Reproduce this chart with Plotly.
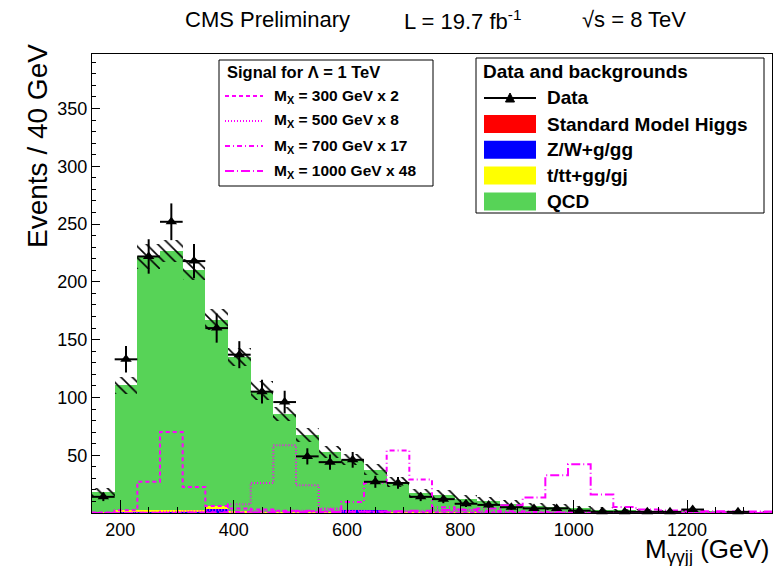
import plotly.graph_objects as go

# ---------------- data ----------------
bin_edges = [150, 190, 230, 270, 310, 350, 390, 430, 470, 510, 550, 590, 630, 670, 710,
             750, 790, 830, 870, 910, 950, 990, 1030, 1070, 1110, 1150, 1190, 1230, 1270,
             1310, 1350]
bin_centers = [170, 210, 250, 290, 330, 370, 410, 450, 490, 530, 570, 610, 650, 690, 730,
               770, 810, 850, 890, 930, 970, 1010, 1050, 1090, 1130, 1170, 1210, 1250,
               1290, 1330]

data_counts = [14, 133, 222, 252, 218, 160, 137, 105, 96, 49, 44, 46, 27, 26, 14,
               12, 8, 7, 5, 4, 4, 2, 1, 1, 1, 1, 3, None, 1, None]
data_errors = [3.7, 11.5, 14.9, 15.9, 14.8, 12.6, 11.7, 10.2, 9.8, 7.0, 6.6, 6.8, 5.2, 5.1, 3.7,
               3.5, 2.8, 2.6, 2.2, 2.0, 2.0, 1.4, 1.0, 1.0, 1.0, 1.0, 1.7, None, 1.0, None]

bkg_higgs = [0.1, 0.2, 0.3, 0.3, 0.3, 0.3, 0.2, 0.2, 0.2, 0.1, 0.1, 0.1, 0.1, 0.1, 0.1,
             0.1, 0.1, 0.05, 0.05, 0.05, 0.05, 0.05, 0.05, 0.05, 0.05, 0.05, 0.05, 0.05, 0.05, 0.05]
bkg_zw = [0.3, 0.5, 0.5, 0.5, 0.6, 3.5, 0.5, 0.4, 0.3, 0.3, 0.3, 2.6, 2.6, 0.3, 0.2,
          0.2, 0.2, 0.1, 0.1, 0.1, 0.1, 0.1, 0.1, 0.1, 0.1, 0.1, 0.1, 0.1, 0.1, 0.1]
bkg_tt = [0.6, 1.8, 2.0, 2.0, 2.0, 2.0, 0.8, 0.6, 0.5, 0.5, 0.4, 0.3, 0.3, 0.3, 0.2,
          0.2, 0.2, 0.1, 0.1, 0.1, 0.1, 0.1, 0.1, 0.1, 0.1, 0.1, 0.1, 0.1, 0.1, 0.1]
bkg_qcd = [17.3, 108.1, 219.2, 223.7, 207.8, 161.6, 133.5, 104.8, 85.0, 66.4, 52.2, 43.3, 34.6,
           26.3, 16.4, 15.5, 12.0, 10.2, 7.9, 5.6, 5.0, 4.1, 2.7, 2.1, 1.5, 1.2, 0.9, 0.7, 0.5, 0.3]
mc_stat_err = [3.6, 7.2, 10.5, 9.5, 9.5, 9.4, 8.0, 8.0, 6.0, 6.0, 5.0, 5.0, 5.0, 4.5, 4.0,
               4.0, 3.5, 3.0, 3.0, 2.5, 2.5, 2.0, 2.0, 1.5, 1.5, 1.2, 1.2, 1.0, 1.0, 1.0]

sig_300 = [0.5, 2.4, 27, 70, 22.6, 6, 4, 3, 2, 1.5, 1.2, 1, 0.8, 0.6, 0.5,
           0.4, 0.3, 0.3, 0.2, 0.2, 0.2, 0.1, 0.1, 0.1, 0.1, 0.1, 0.1, 0.1, 0.1, 0.1]
sig_500 = [0.1, 0.3, 0.5, 1, 1.5, 2.5, 7.6, 26, 58.6, 24, 4, 2, 1.5, 1.2, 1,
           0.8, 0.6, 0.5, 0.4, 0.3, 0.3, 0.2, 0.2, 0.2, 0.2, 0.1, 0.1, 0.1, 0.1, 0.1]
sig_700 = [0, 0.1, 0.2, 0.3, 0.5, 0.7, 1, 1.3, 1.6, 2, 3, 9.6, 26, 54, 29,
           5, 2.5, 1.8, 1.5, 1.2, 1, 0.8, 0.7, 0.6, 0.5, 0.4, 0.4, 0.3, 0.3, 0.3]
sig_1000 = [0, 0, 0.1, 0.1, 0.2, 0.3, 0.4, 0.5, 0.6, 0.7, 0.8, 1, 1.2, 1.5, 2,
            2.5, 3, 4, 6.7, 13.4, 32.7, 42.2, 16, 5.3, 3, 2.2, 1.8, 1.5, 1.3, 1.2]

x_tick_vals = [200, 400, 600, 800, 1000, 1200]
y_tick_vals = [0, 50, 100, 150, 200, 250, 300, 350]
y_tick_text = ["", "50", "100", "150", "200", "250", "300", "350"]

bkg_names = ["Standard Model Higgs", "Z/W+g/gg", "t/tt+gg/gj", "QCD"]
bkg_colors = ["#ff0000", "#0000ff", "#ffff00", "#57d357"]
sig_labels = ["M<sub>X</sub> = 300 GeV x 2", "M<sub>X</sub> = 500 GeV x 8",
              "M<sub>X</sub> = 700 GeV x 17", "M<sub>X</sub> = 1000 GeV x 48"]
sig_dashes = ["4px,3px", "1px,2px", "5px,3px,1px,3px", "9px,3px,1px,3px"]
MAGENTA = "#ff00ff"
FONT = "Liberation Sans, Arial, Helvetica, sans-serif"

# ---------------- figure ----------------
fig = go.Figure()

base = [0.0] * len(bin_centers)
for vals, col in zip([bkg_higgs, bkg_zw, bkg_tt, bkg_qcd], bkg_colors):
    fig.add_trace(go.Bar(x=bin_centers, y=vals, base=list(base), width=40,
                         marker=dict(color=col, line=dict(width=0)),
                         hoverinfo="skip", showlegend=False))
    base = [b + v for b, v in zip(base, vals)]
total = base

# hatched MC uncertainty band
fig.add_trace(go.Bar(x=bin_centers, y=[2 * e for e in mc_stat_err],
                     base=[t - e for t, e in zip(total, mc_stat_err)], width=40,
                     marker=dict(color="rgba(0,0,0,0)", line=dict(width=0),
                                 pattern=dict(shape="\\", fgcolor="black",
                                              bgcolor="rgba(0,0,0,0)", size=8,
                                              solidity=0.2, fillmode="replace")),
                     hoverinfo="skip", showlegend=False))

# signal histograms (step lines)
for vals, dash in zip([sig_300, sig_500, sig_700, sig_1000], sig_dashes):
    fig.add_trace(go.Scatter(x=bin_edges, y=list(vals) + [vals[-1]], mode="lines",
                             line=dict(color=MAGENTA, width=2, dash=dash, shape="hv"),
                             hoverinfo="skip", showlegend=False))

# data points
fig.add_trace(go.Scatter(x=bin_centers, y=data_counts, mode="markers",
                         marker=dict(symbol="triangle-up", size=10, color="black"),
                         error_y=dict(type="data", array=data_errors, color="black",
                                      thickness=2, width=0),
                         error_x=dict(type="constant", value=20, color="black",
                                      thickness=2, width=0),
                         cliponaxis=False, hoverinfo="skip", showlegend=False))

L, R, T, B = 92, 772, 54, 513


def px(x):
    return (x - L) / (R - L)


def py(y):
    return (B - y) / (B - T)


fig.update_layout(
    width=778, height=566,
    margin=dict(l=L, r=778 - R, t=T, b=566 - B),
    plot_bgcolor="white", paper_bgcolor="white",
    barmode="overlay", bargap=0, showlegend=False,
    font=dict(family=FONT, size=18, color="black"),
)
fig.update_xaxes(range=[150, 1350], tickmode="array", tickvals=x_tick_vals,
                 ticks="inside", ticklen=13, tickwidth=1, tickcolor="black",
                 minor=dict(ticks="inside", ticklen=6, tickmode="linear", tick0=200,
                            dtick=50, tickcolor="black", tickwidth=1),
                 showline=True, linecolor="black", linewidth=1, mirror=True,
                 showgrid=False, zeroline=False, tickfont=dict(size=18),
                 ticklabelstandoff=0)
fig.update_yaxes(range=[0, (B - T) / 1.1556], tickmode="array", tickvals=y_tick_vals,
                 ticktext=y_tick_text, ticks="inside", ticklen=8, tickwidth=1,
                 tickcolor="black",
                 minor=dict(ticks="inside", ticklen=4, tickmode="linear", tick0=0,
                            dtick=10, tickcolor="black", tickwidth=1),
                 showline=True, linecolor="black", linewidth=1, mirror=True,
                 showgrid=False, zeroline=False, tickfont=dict(size=18))

ann = []
shapes = []

# title
ann.append(dict(text="CMS Preliminary", x=px(183), y=py(20), xanchor="left", yanchor="middle",
                font=dict(size=22)))
ann.append(dict(text="L = 19.7 fb<sup>-1</sup>", x=px(402), y=py(20), xanchor="left",
                yanchor="middle", font=dict(size=22)))
ann.append(dict(text="√s = 8 TeV", x=px(580), y=py(20), xanchor="left", yanchor="middle",
                font=dict(size=22)))
# axis titles
ann.append(dict(text="Events / 40 GeV", x=px(37), y=py(42), xanchor="center", yanchor="top",
                textangle=-90, font=dict(size=28)))
ann.append(dict(text="M<sub>γγjj</sub> (GeV)", x=px(772), y=py(550), xanchor="right",
                yanchor="middle", font=dict(size=26)))

# left legend (signals)
shapes.append(dict(type="rect", x0=px(219), x1=px(433), y0=py(60), y1=py(186),
                   line=dict(color="black", width=1), fillcolor="white", layer="above"))
ann.append(dict(text="<b>Signal for Λ = 1 TeV</b>", x=px(225), y=py(72), xanchor="left",
                yanchor="middle", font=dict(size=16.5)))
for i, (lab, dash) in enumerate(zip(sig_labels, sig_dashes)):
    yy = 96 + 25 * i
    shapes.append(dict(type="line", x0=px(225), x1=px(263), y0=py(yy), y1=py(yy),
                       line=dict(color=MAGENTA, width=2, dash=dash), layer="above"))
    ann.append(dict(text="<b>" + lab + "</b>", x=px(272), y=py(yy), xanchor="left",
                    yanchor="middle", font=dict(size=15.5)))

# right legend (data and backgrounds)
shapes.append(dict(type="rect", x0=px(476), x1=px(764), y0=py(58), y1=py(213),
                   line=dict(color="black", width=1), fillcolor="white", layer="above"))
ann.append(dict(text="<b>Data and backgrounds</b>", x=px(481), y=py(71), xanchor="left",
                yanchor="middle", font=dict(size=19)))
yy = 98
shapes.append(dict(type="line", x0=px(484), x1=px(536), y0=py(yy), y1=py(yy),
                   line=dict(color="black", width=2), layer="above"))
shapes.append(dict(type="path",
                   path="M {},{} L {},{} L {},{} Z".format(px(505.5), py(yy + 4), px(514.5),
                                                          py(yy + 4), px(510), py(yy - 5)),
                   xref="paper", yref="paper", fillcolor="black",
                   line=dict(color="black", width=1), layer="above"))
ann.append(dict(text="<b>Data</b>", x=px(545), y=py(yy), xanchor="left", yanchor="middle",
                font=dict(size=19)))
for i, (name, col) in enumerate(zip(bkg_names, bkg_colors)):
    yy = 124 + 25.8 * i
    shapes.append(dict(type="rect", x0=px(484), x1=px(536), y0=py(yy - 9), y1=py(yy + 9),
                       line=dict(width=0), fillcolor=col, layer="above"))
    ann.append(dict(text="<b>" + name + "</b>", x=px(545), y=py(yy), xanchor="left",
                    yanchor="middle", font=dict(size=19)))

for a in ann:
    a.update(xref="paper", yref="paper", showarrow=False)
for s in shapes:
    s.setdefault("xref", "paper")
    s.setdefault("yref", "paper")

fig.update_layout(annotations=ann, shapes=shapes)
fig.write_html("out.html")
